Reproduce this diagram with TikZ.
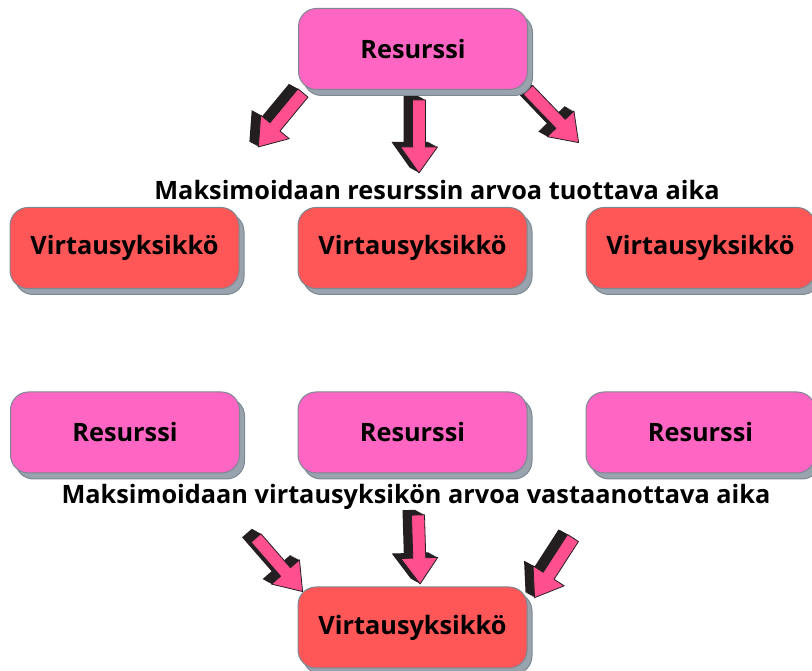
\documentclass[tikz,border=0pt]{standalone}
\usepackage{fontspec}
\setmainfont{Open Sans}
\usetikzlibrary{calc,shadows}

\definecolor{boxpink}{HTML}{FF66C4}
\definecolor{boxred}{HTML}{FF5757}
\definecolor{arrowpink}{HTML}{FF4F8F}
\definecolor{arrowdark}{HTML}{231F20}
\definecolor{shadowgray}{HTML}{98A3AE}
\definecolor{edgegray}{HTML}{7C8893}

\tikzset{
  box/.style={rectangle, rounded corners=18pt, minimum width=229pt,
    minimum height=81pt, draw=edgegray, line width=1pt,
    font=\fontsize{25.3}{29}\selectfont\bfseries,
    copy shadow={shadow xshift=5pt, shadow yshift=-6pt,
      fill=shadowgray, draw=edgegray}},
  resource/.style={box, fill=boxpink},
  unit/.style={box, fill=boxred},
  caption/.style={font=\fontsize{25.3}{29}\selectfont\bfseries},
  arrowside/.style={fill=arrowdark},
  arrowface/.style={fill=arrowpink, draw=arrowdark, line width=0.8pt,
    line join=round},
  pics/arrowbody/.style={code={
    \path[pic actions] (0,-6.5) -- (#1-26,-6.5) -- (#1-26,-18.5) -- (#1,0)
      -- (#1-26,18.5) -- (#1-26,6.5) -- (0,6.5) -- cycle;}},
}

\begin{document}
\begin{tikzpicture}[x=1pt,y=1pt]

  % Fix the size of the picture
  \useasboundingbox (0,0) rectangle (812,671);

  % Tails of the block arrows
  \coordinate (a1) at (303,578);
  \coordinate (a2) at (419,571);
  \coordinate (a3) at (528,581);
  \coordinate (b1) at (256,133);
  \coordinate (b2) at (418,156);
  \coordinate (b3) at (573,133);

  % Draw the block arrows with their dark side
  \foreach \t/\a/\l in {a1/-129.6/70, a2/-90/73, a3/-46.1/73,
                        b1/-49/71, b2/-88.3/69, b3/-122.8/71} {
    \foreach \k in {1,...,10}
      \pic[arrowside, rotate=\a] at ($(\t)+(-0.9*\k,0.5*\k)$) {arrowbody=\l};
    \pic[arrowface, rotate=\a] at (\t) {arrowbody=\l};
  }

  % Upper half: one resource, three flow units
  \node[resource] (res) at (413,622) {Resurssi};
  \node[caption] (cap1) at (437,481) {Maksimoidaan resurssin arvoa tuottava aika};
  \node[unit] (unit1) at (124.5,423) {Virtausyksikkö};
  \node[unit] (unit2) at (412.5,423) {Virtausyksikkö};
  \node[unit] (unit3) at (700.5,423) {Virtausyksikkö};

  % Lower half: three resources, one flow unit
  \node[resource] (res1) at (125,238.5) {Resurssi};
  \node[resource] (res2) at (412.5,238.5) {Resurssi};
  \node[resource] (res3) at (700.5,238.5) {Resurssi};
  \node[caption] (cap2) at (416,174) {Maksimoidaan virtausyksikön arvoa vastaanottava aika};
  \node[unit] (unit) at (412.5,43.5) {Virtausyksikkö};

\end{tikzpicture}
\end{document}
